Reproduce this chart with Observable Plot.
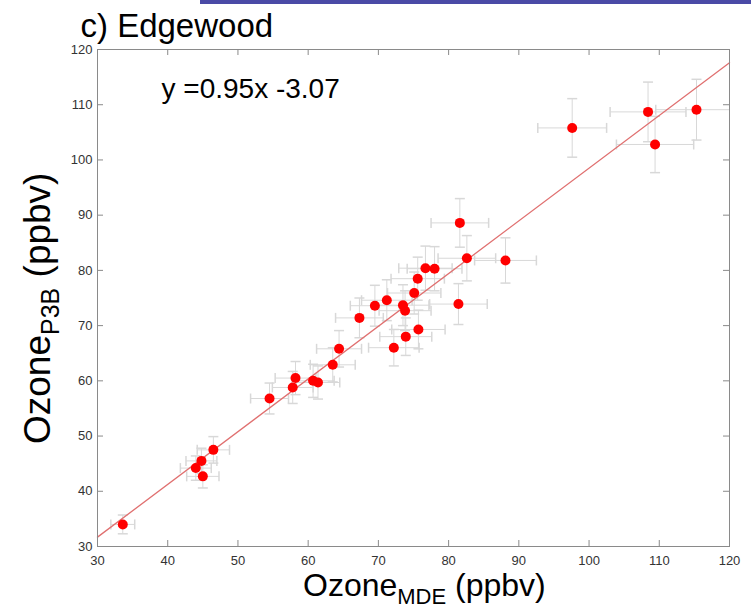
<!DOCTYPE html>
<html><head><meta charset="utf-8">
<script src="https://cdn.jsdelivr.net/npm/d3@7"></script>
<script src="https://cdn.jsdelivr.net/npm/@observablehq/plot@0.6"></script>
<style>
body{margin:0;background:#fff;font-family:"Liberation Sans",Arial,sans-serif}
#wrap{position:relative;width:751px;height:608px;overflow:hidden}
#bar{position:absolute;left:200px;top:0;width:551px;height:4px;background:#4a4aa6}
#wrap svg{position:absolute;left:0;top:0}
</style>
</head><body><div id="wrap"><div id="bar"></div></div>
<script>
// Ozone MDE (x) vs Ozone P3B (y), ppbv
const xMDE = [33.6,44.0,44.8,45.0,46.5,54.5,57.8,58.2,60.7,61.4,63.5,64.4,67.3,69.5,71.2,72.2,73.5,73.8,73.9,75.1,75.7,75.6,76.7,78.0,81.4,81.6,82.6,88.1,97.6,108.4,109.4,115.3];
const yP3B = [34.0,44.2,45.5,42.7,47.5,56.8,58.8,60.5,60.0,59.7,62.9,65.8,71.4,73.6,74.6,66.0,73.7,72.7,68.0,75.9,69.3,78.5,80.4,80.3,73.9,88.6,82.2,81.8,105.8,108.7,102.8,109.1];
const xErr = [1.7,2.2,2.2,2.3,2.3,2.7,2.9,2.9,3.0,3.1,3.2,3.2,3.4,3.5,3.6,3.6,3.7,3.7,3.7,3.8,3.8,3.8,3.8,3.9,4.1,4.1,4.1,4.4,4.9,5.4,5.5,5.8];
const yErr = [1.7,2.2,2.3,2.1,2.4,2.8,2.9,3.0,3.0,3.0,3.1,3.3,3.6,3.7,3.7,3.3,3.7,3.6,3.4,3.8,3.5,3.9,4.0,4.0,3.7,4.4,4.1,4.1,5.3,5.4,5.1,5.5];
const fitX = [30, 120];
const fitY = [31.7, 117.6];
const xTicks = [30,40,50,60,70,80,90,100,110,120];
const yTicks = [30,40,50,60,70,80,90,100,110,120];
const titleText = "c) Edgewood";
const equationText = "y =0.95x -3.07";

const data = xMDE.map((x,i)=>({x, y:yP3B[i], xe:xErr[i], ye:yErr[i]}));
const fit = fitX.map((x,i)=>({x, y:fitY[i]}));

const W = 751, H = 608, mL = 97, mR = 22, mT = 49, mB = 62;
const fw = W - mL - mR, fh = H - mT - mB;
const errColor = "#d8d8d8", axisColor = "#8a8a8a";
const vCap = {draw(ctx, size){const h = Math.sqrt(size/Math.PI); ctx.moveTo(0,-h); ctx.lineTo(0,h);}};
const hCap = {draw(ctx, size){const h = Math.sqrt(size/Math.PI); ctx.moveTo(-h,0); ctx.lineTo(h,0);}};

const chart = Plot.plot({
  width: W, height: H,
  marginLeft: mL, marginRight: mR, marginTop: mT, marginBottom: mB,
  style: {fontFamily: "'Liberation Sans', Arial, sans-serif", background: "transparent"},
  x: {domain: [30,120], label: null},
  y: {domain: [30,120], label: null},
  marks: [
    Plot.link(data, {x1: d=>d.x-d.xe, x2: d=>d.x+d.xe, y1: "y", y2: "y", stroke: errColor, strokeWidth: 1, clip: true}),
    Plot.link(data, {x1: "x", x2: "x", y1: d=>d.y-d.ye, y2: d=>d.y+d.ye, stroke: errColor, strokeWidth: 1, clip: true}),
    Plot.dot(data, {x: d=>d.x-d.xe, y: "y", symbol: vCap, r: 5, stroke: errColor, fill: "none", clip: true}),
    Plot.dot(data, {x: d=>d.x+d.xe, y: "y", symbol: vCap, r: 5, stroke: errColor, fill: "none", clip: true}),
    Plot.dot(data, {x: "x", y: d=>d.y-d.ye, symbol: hCap, r: 5, stroke: errColor, fill: "none", clip: true}),
    Plot.dot(data, {x: "x", y: d=>d.y+d.ye, symbol: hCap, r: 5, stroke: errColor, fill: "none", clip: true}),
    Plot.line(fit, {x: "x", y: "y", stroke: "#e07070", strokeWidth: 1.3}),
    Plot.dot(data, {x: "x", y: "y", r: 5, fill: "#ff0000", stroke: "none"}),
    Plot.frame({stroke: axisColor}),
    Plot.tickX(xTicks, {x: d=>d, insetTop: fh-6, stroke: axisColor}),
    Plot.tickX(xTicks, {x: d=>d, insetBottom: fh-6, stroke: axisColor}),
    Plot.tickY(yTicks, {y: d=>d, insetRight: fw-6, stroke: axisColor}),
    Plot.tickY(yTicks, {y: d=>d, insetLeft: fw-6, stroke: axisColor}),
    Plot.axisX(xTicks, {tickSize: 0, tickPadding: 9, fontSize: 13, fill: "#333", label: null}),
    Plot.axisY(yTicks, {tickSize: 0, tickPadding: 5, fontSize: 13, fill: "#333", label: null}),
    Plot.text([titleText], {frameAnchor: "top-left", dx: 80-mL, dy: 36-mT, lineAnchor: "bottom", textAnchor: "start", fontSize: 33, fill: "#000"}),
    Plot.text([equationText], {frameAnchor: "top-left", dx: 161-mL, dy: 97-mT, lineAnchor: "bottom", textAnchor: "start", fontSize: 28, fill: "#000"})
  ]
});

const svg = d3.select(chart);
// x axis label with subscript
const xl = svg.append("text").attr("x", 303).attr("y", 596).attr("text-anchor", "start").attr("font-size", 32).attr("fill", "#000")
  .attr("font-family", "'Liberation Sans', Arial, sans-serif");
xl.append("tspan").text("Ozone");
xl.append("tspan").attr("font-size", 22).attr("dy", 8).text("MDE");
xl.append("tspan").attr("dy", -8).text(" (ppbv)");
// y axis label with subscript
const yl = svg.append("text").attr("transform", "translate(50,444) rotate(-90)").attr("text-anchor", "start").attr("font-size", 37).attr("fill", "#000")
  .attr("font-family", "'Liberation Sans', Arial, sans-serif");
yl.append("tspan").text("Ozone");
yl.append("tspan").attr("font-size", 25).attr("dy", 9).text("P3B");
yl.append("tspan").attr("dy", -9).text(" (ppbv)");

document.getElementById("wrap").appendChild(chart);
</script>
</body></html>
